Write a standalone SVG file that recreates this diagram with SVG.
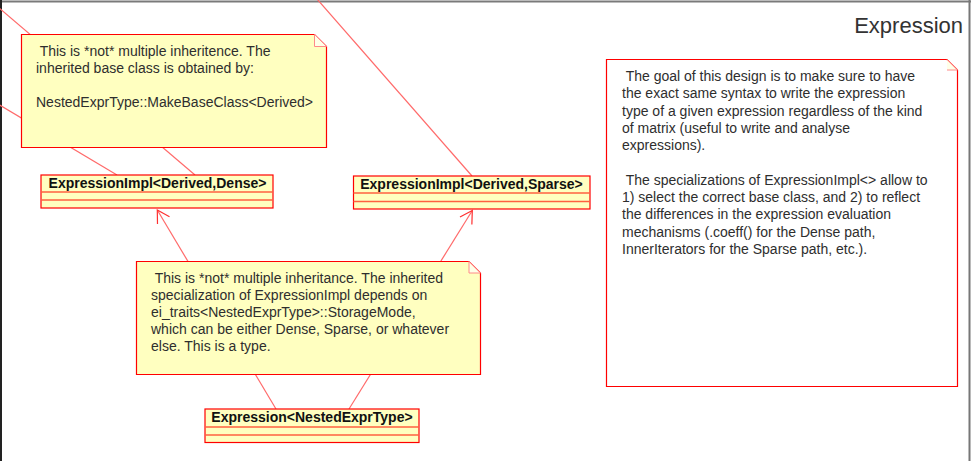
<svg xmlns="http://www.w3.org/2000/svg" width="973" height="461" viewBox="0 0 973 461">
<style>
  .conn { fill: none; stroke: #ff6a6a; stroke-width: 1.2; }
  .note { fill: #ffffc0; stroke: #ff0000; stroke-width: 1.2; }
  .note-w { fill: #ffffff; stroke: #ff0000; stroke-width: 1.2; }
  .fold { fill: #ffffe8; stroke: #ff8a8a; stroke-width: 1; }
  .cls { fill: #ffffc0; stroke: #ff0000; stroke-width: 1.2; }
  .sep { stroke: #ff6040; stroke-width: 1.5; }
  .ntxt { font-family: "Liberation Sans", Arial, sans-serif; font-size: 14px; fill: #2e2e2e; }
  .ctxt { font-family: "Liberation Sans", Arial, sans-serif; font-size: 14px; font-weight: bold; fill: #111; text-anchor: middle; }
  .title { font-family: "Liberation Sans", Arial, sans-serif; font-size: 22px; fill: #333; text-anchor: end; }
</style>
<defs>
  <marker id="open" viewBox="-15 -9 17 18" markerWidth="17" markerHeight="18" refX="0" refY="0" orient="auto" markerUnits="userSpaceOnUse">
    <path d="M-12.1,-7 L0,0 L-12.1,7" fill="none" stroke="#ff3030" stroke-width="1.2"/>
  </marker>
</defs>
<rect x="0" y="0" width="973" height="461" fill="#ffffff"/>
<g id="frame">
  <line x1="0" y1="1.5" x2="971" y2="1.5" stroke="#7a7a7a" stroke-width="2"/>
  <line x1="1" y1="0" x2="1" y2="461" stroke="#222" stroke-width="2"/>
  <line x1="969.5" y1="0" x2="969.5" y2="461" stroke="#777" stroke-width="2"/>
  <text class="title" x="963" y="33">Expression</text>
</g>
<g id="connectors">
  <line class="conn" x1="117" y1="175" x2="-2" y2="104"/>
  <line class="conn" x1="195" y1="175" x2="-2" y2="7"/>
  <line class="conn" x1="472" y1="176" x2="317" y2="-1"/>
  <path class="conn" d="M276,409 L157.3,210" marker-end="url(#open)"/>
  <path class="conn" d="M349,409 L472.3,210.5" marker-end="url(#open)"/>
</g>
<g id="note-base">
  <path class="note" d="M21.5,34.5 H314.5 L326.5,46.5 V147.5 H21.5 Z"/>
  <path class="fold" d="M314.5,34.5 V46.5 H326.5 Z"/>
  <text class="ntxt" xml:space="preserve"><tspan x="36" y="56"> This is *not* multiple inheritence. The</tspan><tspan x="36" y="73">inherited base class is obtained by:</tspan><tspan x="36" y="107">NestedExprType::MakeBaseClass&lt;Derived&gt;</tspan></text>
</g>
<g id="dense">
  <rect class="cls" x="41" y="175" width="232" height="33"/>
  <line class="sep" x1="41" y1="192" x2="273" y2="192"/>
  <line class="sep" x1="41" y1="200" x2="273" y2="200"/>
  <text class="ctxt" x="157.5" y="188">ExpressionImpl&lt;Derived,Dense&gt;</text>
</g>
<g id="sparse">
  <rect class="cls" x="353.5" y="176" width="236.5" height="33"/>
  <line class="sep" x1="353.5" y1="193" x2="590" y2="193"/>
  <line class="sep" x1="353.5" y1="201.5" x2="590" y2="201.5"/>
  <text class="ctxt" x="471.5" y="189">ExpressionImpl&lt;Derived,Sparse&gt;</text>
</g>
<g id="note-specialization">
  <path class="note" d="M136.5,261.5 H469 L480.5,273 V374.5 H136.5 Z"/>
  <path class="fold" d="M469,261.5 V273 H480.5 Z"/>
  <text class="ntxt" xml:space="preserve"><tspan x="151" y="283"> This is *not* multiple inheritance. The inherited</tspan><tspan x="151" y="300">specialization of ExpressionImpl depends on</tspan><tspan x="151" y="317">ei_traits&lt;NestedExprType&gt;::StorageMode,</tspan><tspan x="151" y="334">which can be either Dense, Sparse, or whatever</tspan><tspan x="151" y="351">else. This is a type.</tspan></text>
</g>
<g id="expression">
  <rect class="cls" x="205" y="409" width="214" height="33.5"/>
  <line class="sep" x1="205" y1="427" x2="419" y2="427"/>
  <line class="sep" x1="205" y1="435" x2="419" y2="435"/>
  <text class="ctxt" x="312" y="422">Expression&lt;NestedExprType&gt;</text>
</g>
<g id="note-goal">
  <path class="note-w" d="M606.5,59.5 H947 L957.5,70 V386.5 H606.5 Z"/>
  <path class="fold" d="M947,59.5 L957.5,70 H947" fill="none"/>
  <text class="ntxt" xml:space="preserve"><tspan x="622" y="81"> The goal of this design is to make sure to have</tspan><tspan x="622" y="98.3">the exact same syntax to write the expression</tspan><tspan x="622" y="115.6">type of a given expression regardless of the kind</tspan><tspan x="622" y="132.9">of matrix (useful to write and analyse</tspan><tspan x="622" y="150.2">expressions).</tspan><tspan x="622" y="184.8"> The specializations of ExpressionImpl&lt;&gt; allow to</tspan><tspan x="622" y="202.1">1) select the correct base class, and 2) to reflect</tspan><tspan x="622" y="219.4">the differences in the expression evaluation</tspan><tspan x="622" y="236.7">mechanisms (.coeff() for the Dense path,</tspan><tspan x="622" y="254">InnerIterators for the Sparse path, etc.).</tspan></text>
</g>
</svg>
